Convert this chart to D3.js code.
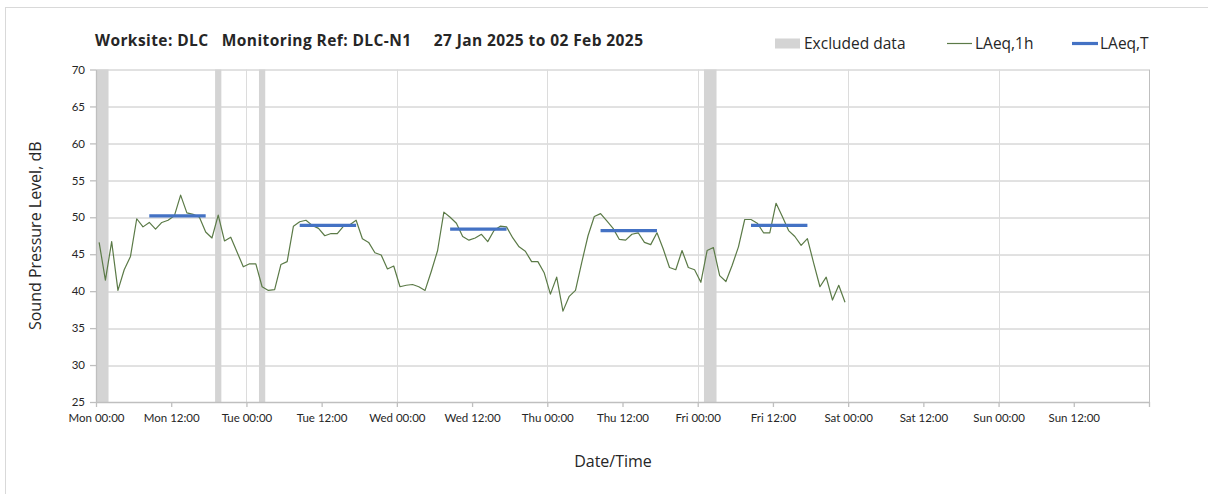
<!DOCTYPE html>
<html>
<head>
<meta charset="utf-8">
<script src="https://cdn.jsdelivr.net/npm/d3@7"></script>
<style>
  body { margin: 0; background: #fff; }
  text { font-family: 'Open Sans', Lato, sans-serif; fill: #262626; }
</style>
</head>
<body>
<svg class="chart"></svg>
<script>
// Chart data (hours counted from Mon 00:00)
const xTickLabels = ['Mon 00:00', 'Mon 12:00', 'Tue 00:00', 'Tue 12:00', 'Wed 00:00', 'Wed 12:00',
  'Thu 00:00', 'Thu 12:00', 'Fri 00:00', 'Fri 12:00', 'Sat 00:00', 'Sat 12:00', 'Sun 00:00', 'Sun 12:00'];
const yTicks = [25, 30, 35, 40, 45, 50, 55, 60, 65, 70];

// hourly LAeq,1h, Mon 00:00 to Fri 23:00
const laeq1h = [
  46.6, 41.5, 46.7, 40.1, 42.9, 44.7, 49.8, 48.7, 49.3, 48.4, 49.3, 49.6,
  50.2, 53.0, 50.6, 50.4, 50.0, 48.0, 47.2, 50.3, 46.8, 47.3, 45.3, 43.3,
  43.7, 43.7, 40.6, 40.1, 40.2, 43.6, 44.0, 48.8, 49.4, 49.6, 48.9, 48.5,
  47.5, 47.8, 47.8, 48.8, 49.0, 49.6, 47.1, 46.6, 45.2, 44.9, 43.0, 43.4,
  40.6, 40.8, 40.9, 40.6, 40.1, 42.7, 45.5, 50.7, 50.0, 49.2, 47.4, 46.9,
  47.2, 47.7, 46.7, 48.2, 48.8, 48.7, 47.2, 46.0, 45.4, 44.0, 44.0, 42.5,
  39.6, 41.9, 37.3, 39.3, 40.1, 43.9, 47.5, 50.1, 50.5, 49.5, 48.5, 47.0,
  46.9, 47.7, 47.9, 46.6, 46.3, 47.9, 45.7, 43.2, 42.9, 45.5, 43.2, 42.9,
  41.2, 45.5, 45.9, 42.1, 41.3, 43.5, 46.0, 49.7, 49.7, 49.2, 47.9, 47.9,
  51.9, 50.1, 48.2, 47.4, 46.2, 47.1, 43.8, 40.6, 41.9, 38.8, 40.8, 38.5
];

// excluded periods (hour from / hour to)
const excludedFrom = [0, 19, 26, 97];
const excludedTo = [2, 20, 27, 99];

// daytime LAeq,T for each weekday (hours 08 to 17)
const laeqTDay = [0, 1, 2, 3, 4];
const laeqT = [50.2, 48.9, 48.4, 48.2, 48.9];
const dayFirstHour = 8;
const dayLastHour = 17;

const svgWidth = 1208;
const svgHeight = 494;
const margin = { top: 69.5, right: 59, bottom: 92, left: 96 };
const chartWidth = svgWidth - margin.left - margin.right;
const chartHeight = svgHeight - margin.top - margin.bottom;

const svg = d3.select('.chart')
  .attr('width', svgWidth)
  .attr('height', svgHeight);

// outer frame (only top and left are in view)
svg.append('rect')
  .attr('x', 5.5).attr('y', 7.5)
  .attr('width', 1220).attr('height', 500)
  .attr('fill', 'none')
  .attr('stroke', '#d9d9d9');

const chart = svg.append('g')
  .attr('transform', 'translate(' + margin.left + ',' + margin.top + ')');

const xScale = d3.scaleLinear().domain([0, 168]).range([0, chartWidth]);
const yScale = d3.scaleLinear().domain([25, 70]).range([chartHeight, 0]);

// horizontal gridlines
chart.selectAll('line.hgrid')
  .data(yTicks.slice(1))
  .enter().append('line')
  .attr('class', 'hgrid')
  .attr('x1', 0).attr('x2', chartWidth)
  .attr('y1', d => Math.round(yScale(d)) + 0.5)
  .attr('y2', d => Math.round(yScale(d)) + 0.5)
  .attr('stroke', '#c4c4c4');

// vertical gridlines each day
chart.selectAll('line.vgrid')
  .data(d3.range(24, 169, 24))
  .enter().append('line')
  .attr('class', 'vgrid')
  .attr('x1', d => Math.round(xScale(d)) + 0.5)
  .attr('x2', d => Math.round(xScale(d)) + 0.5)
  .attr('y1', 0).attr('y2', chartHeight)
  .attr('stroke', d => d === 168 ? '#bfbfbf' : '#dcdcdc');

// excluded data bands
chart.selectAll('rect.excluded')
  .data(excludedFrom)
  .enter().append('rect')
  .attr('class', 'excluded')
  .attr('x', (d, i) => xScale(d))
  .attr('y', 0)
  .attr('width', (d, i) => xScale(excludedTo[i]) - xScale(d))
  .attr('height', chartHeight)
  .attr('fill', '#d4d4d4');

// LAeq,1h line
const line1h = d3.line()
  .x((d, i) => xScale(i + 0.5))
  .y(d => yScale(d));

chart.append('path')
  .datum(laeq1h)
  .attr('fill', 'none')
  .attr('stroke', '#5b7a47')
  .attr('stroke-width', 1.2)
  .attr('stroke-linejoin', 'round')
  .attr('d', line1h);

// LAeq,T daytime lines
chart.selectAll('line.laeqt')
  .data(laeqT)
  .enter().append('line')
  .attr('class', 'laeqt')
  .attr('x1', (d, i) => xScale(laeqTDay[i] * 24 + dayFirstHour + 0.5))
  .attr('x2', (d, i) => xScale(laeqTDay[i] * 24 + dayLastHour + 0.5))
  .attr('y1', d => yScale(d))
  .attr('y2', d => yScale(d))
  .attr('stroke', '#4472c4')
  .attr('stroke-width', 3.2);

// axes
const xAxisGroup = chart.append('g')
  .attr('transform', 'translate(0,' + chartHeight + ')')
  .call(d3.axisBottom(xScale)
    .tickValues(d3.range(0, 169, 12))
    .tickSize(5)
    .tickSizeOuter(0)
    .tickFormat(d => xTickLabels[d / 12] || ''));

xAxisGroup.select('.domain').attr('stroke', '#bfbfbf').attr('stroke-width', 1.3);
xAxisGroup.selectAll('line').attr('stroke', '#bfbfbf').attr('stroke-width', 1.3);
xAxisGroup.selectAll('text')
  .attr('font-size', '11.5px')
  .attr('y', 12)
  .style('font-family', 'Lato, sans-serif')
  .attr('fill', '#404040');

const yAxisGroup = chart.append('g')
  .call(d3.axisLeft(yScale)
    .tickValues(yTicks)
    .tickSize(6)
    .tickSizeOuter(0));

yAxisGroup.select('.domain').attr('stroke', '#bfbfbf').attr('stroke-width', 1.3);
yAxisGroup.selectAll('line').attr('stroke', '#bfbfbf').attr('stroke-width', 1.3);
yAxisGroup.selectAll('text')
  .attr('font-size', '11.5px')
  .attr('x', -11)
  .style('font-family', 'Lato, sans-serif')
  .attr('fill', '#404040');

// axis titles
svg.append('text')
  .attr('transform', 'translate(41,' + (margin.top + chartHeight / 2) + ') rotate(-90)')
  .attr('text-anchor', 'middle')
  .attr('font-size', '16px')
  .text('Sound Pressure Level, dB');

svg.append('text')
  .attr('x', 613)
  .attr('y', 467)
  .attr('text-anchor', 'middle')
  .attr('font-size', '16px')
  .text('Date/Time');

// title
svg.append('text')
  .attr('x', 95)
  .attr('y', 46)
  .attr('font-size', '15.5px')
  .attr('font-weight', 'bold')
  .attr('textLength', 548)
  .attr('lengthAdjust', 'spacing')
  .style('white-space', 'pre')
  .text('Worksite: DLC   Monitoring Ref: DLC-N1     27 Jan 2025 to 02 Feb 2025');

// legend
const legend = svg.append('g');
legend.append('rect')
  .attr('x', 775).attr('y', 38.5)
  .attr('width', 25).attr('height', 10)
  .attr('fill', '#d4d4d4');
legend.append('text')
  .attr('x', 804).attr('y', 49)
  .attr('font-size', '15.5px')
  .text('Excluded data');

legend.append('line')
  .attr('x1', 947).attr('x2', 972)
  .attr('y1', 43.5).attr('y2', 43.5)
  .attr('stroke', '#5b7a47')
  .attr('stroke-width', 1.2);
legend.append('text')
  .attr('x', 975).attr('y', 49)
  .attr('font-size', '15.5px')
  .text('LAeq,1h');

legend.append('line')
  .attr('x1', 1072).attr('x2', 1098)
  .attr('y1', 43.5).attr('y2', 43.5)
  .attr('stroke', '#4472c4')
  .attr('stroke-width', 3.2);
legend.append('text')
  .attr('x', 1100).attr('y', 49)
  .attr('font-size', '15.5px')
  .text('LAeq,T');
</script>
</body>
</html>
